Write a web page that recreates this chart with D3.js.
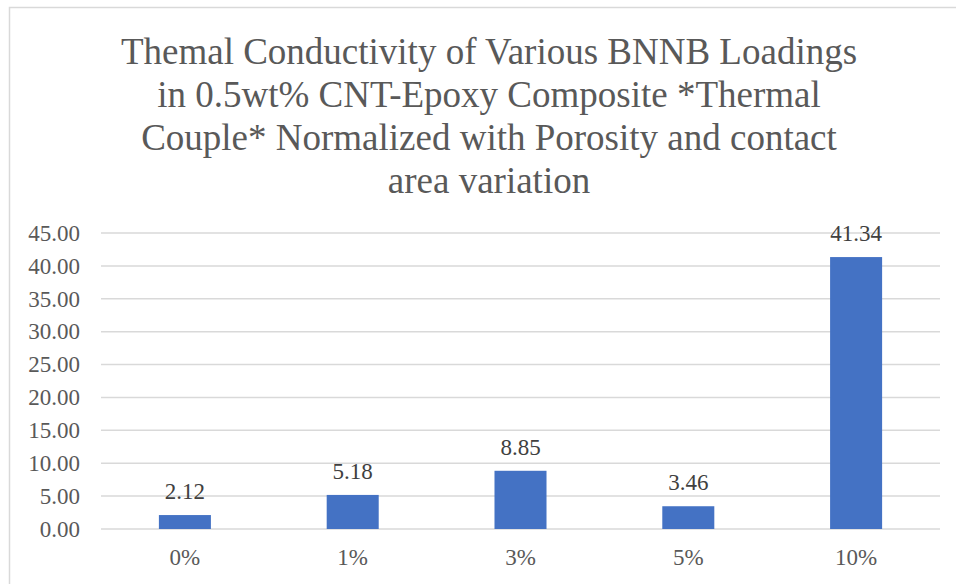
<!DOCTYPE html>
<html>
<head>
<meta charset="utf-8">
<script src="https://cdn.jsdelivr.net/npm/d3@7"></script>
<style>
  body { margin: 0; background: #fff; }
</style>
</head>
<body>
<div id="chart"></div>
<script>
// chart data
const categories = ["0%", "1%", "3%", "5%", "10%"];
const values = [2.12, 5.18, 8.85, 3.46, 41.34];
const yTicks = [0, 5, 10, 15, 20, 25, 30, 35, 40, 45];
const titleLines = [
    "Themal Conductivity of Various BNNB Loadings",
    "in 0.5wt% CNT-Epoxy Composite *Thermal",
    "Couple* Normalized with Porosity and contact",
    "area variation"
];

const width = 956, height = 584;
const plot = { left: 101, right: 940, top: 233, bottom: 529 };
const serif = '"Liberation Serif", serif';

const svg = d3.select("#chart")
    .append("svg")
    .attr("width", width)
    .attr("height", height);

// outer chart border
svg.append("rect")
    .attr("x", 9.5).attr("y", 7.5)
    .attr("width", 1000).attr("height", 1000)
    .attr("fill", "none")
    .attr("stroke", "#d9d9d9")
    .attr("stroke-width", 1.5);

// title
svg.append("text")
    .attr("text-anchor", "middle")
    .style("font-family", serif)
    .style("font-size", "37px")
    .style("fill", "#595959")
    .selectAll("tspan")
    .data(titleLines)
    .enter()
    .append("tspan")
    .attr("x", 489)
    .attr("y", (d, i) => 64 + i * 43)
    .text(d => d);

const x = d3.scaleBand()
    .domain(categories)
    .range([plot.left, plot.right])
    .paddingInner(0.69)
    .paddingOuter(0.345);

const y = d3.scaleLinear()
    .domain([0, 45])
    .range([plot.bottom, plot.top]);

// gridlines
svg.selectAll(".grid")
    .data(yTicks)
    .enter()
    .append("line")
    .attr("x1", plot.left)
    .attr("x2", plot.right)
    .attr("y1", d => y(d))
    .attr("y2", d => y(d))
    .style("stroke", "#d9d9d9")
    .style("stroke-width", 1.5);

// y tick labels
svg.selectAll(".ytick")
    .data(yTicks)
    .enter()
    .append("text")
    .attr("x", 80)
    .attr("y", d => y(d))
    .attr("dy", "0.34em")
    .attr("text-anchor", "end")
    .style("font-family", serif)
    .style("font-size", "23px")
    .style("fill", "#595959")
    .text(d => d.toFixed(2));

// bars
svg.selectAll(".bar")
    .data(values)
    .enter()
    .append("rect")
    .attr("x", (d, i) => x(categories[i]))
    .attr("width", x.bandwidth())
    .attr("y", d => y(d))
    .attr("height", d => y(0) - y(d))
    .style("fill", "#4472c4");

// value labels
svg.selectAll(".val")
    .data(values)
    .enter()
    .append("text")
    .attr("x", (d, i) => x(categories[i]) + x.bandwidth() / 2)
    .attr("y", d => y(d) - 16)
    .attr("text-anchor", "middle")
    .style("font-family", serif)
    .style("font-size", "23px")
    .style("fill", "#404040")
    .text(d => d.toFixed(2));

// x labels
svg.selectAll(".xtick")
    .data(categories)
    .enter()
    .append("text")
    .attr("x", d => x(d) + x.bandwidth() / 2)
    .attr("y", 565)
    .attr("text-anchor", "middle")
    .style("font-family", serif)
    .style("font-size", "23px")
    .style("fill", "#595959")
    .text(d => d);
</script>
</body>
</html>
